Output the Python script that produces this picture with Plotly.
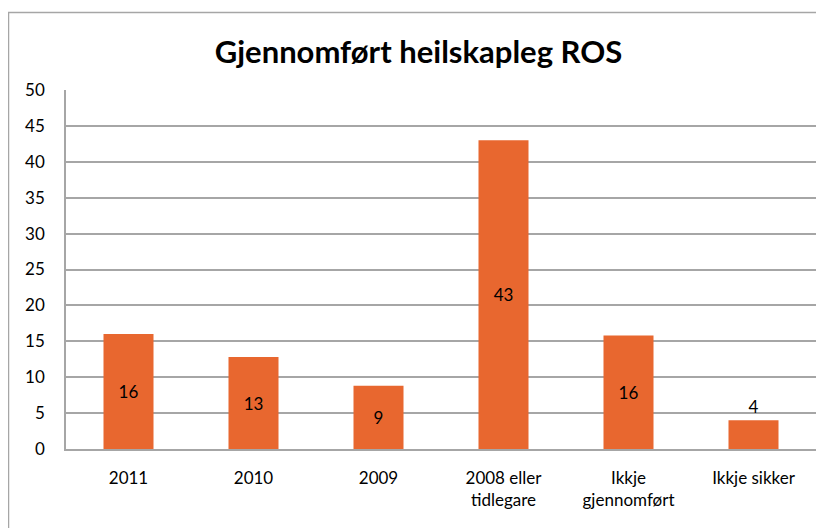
import plotly.graph_objects as go

categories = ["2011", "2010", "2009", "2008 eller<br>tidlegare", "Ikkje<br>gjennomført", "Ikkje sikker"]
values = [16.0, 12.8, 8.8, 43.0, 15.8, 4.0]
labels = ["16", "13", "9", "43", "16", "4"]
y_ticks = [0, 5, 10, 15, 20, 25, 30, 35, 40, 45, 50]

BAR = "#E8672F"
GRID = "#A6A6A6"
FONT = "Lato"

# page has an 8px body margin, so the figure is 816x520 placed at (8,8)
W, H = 816, 520
ML, MR, MT, MB = 58, 8, 82, 79
PW, PH = W - ML - MR, H - MT - MB

fig = go.Figure()
fig.add_trace(go.Bar(
    x=categories,
    y=values,
    text=labels,
    textposition=["inside"] * 5 + ["outside"],
    insidetextanchor="middle",
    textfont=dict(family=FONT, size=17, color="#000000"),
    marker=dict(color=BAR, line=dict(width=0)),
    cliponaxis=False,
    hoverinfo="skip",
))

fig.update_layout(
    width=W, height=H,
    margin=dict(l=ML, r=MR, t=MT, b=MB),
    paper_bgcolor="white", plot_bgcolor="white",
    bargap=0.6,
    showlegend=False,
    font=dict(family=FONT, size=17, color="#000000"),
    title=dict(
        text="<b>Gjennomført heilskapleg ROS</b>",
        x=(418.5 - 8) / W, xanchor="center", xref="container",
        y=1 - 44 / H, yanchor="middle", yref="container",
        font=dict(family=FONT, size=31, color="#000000"),
    ),
    xaxis=dict(
        showgrid=False, showline=True, linecolor=GRID, linewidth=1.5,
        ticks="", tickfont=dict(family=FONT, size=17, color="#000000"),
        ticklabelstandoff=13,
    ),
    yaxis=dict(
        range=[0, 50], tickvals=y_ticks, showgrid=True, gridcolor=GRID, gridwidth=1.5,
        showline=True, linecolor=GRID, linewidth=1.5, zeroline=False,
        ticks="", tickfont=dict(family=FONT, size=17, color="#000000"),
        ticklabelstandoff=16,
    ),
    shapes=[dict(
        type="rect", xref="paper", yref="paper",
        x0=(0.5 - ML) / PW, x1=1.05, y0=-0.4, y1=1 + (MT - 4.5) / PH,
        line=dict(color=GRID, width=1.5), fillcolor="rgba(0,0,0,0)", layer="below",
    )],
)

fig.write_html("out.html")
